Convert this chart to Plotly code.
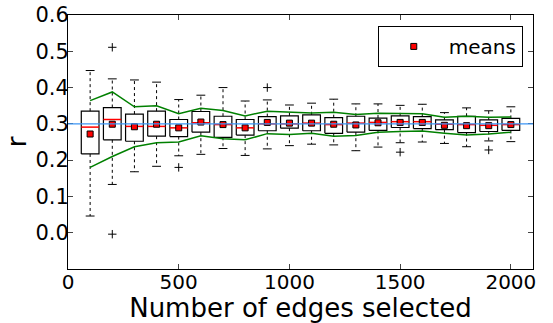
import plotly.graph_objects as go

# ---- data ----
edges = [100, 200, 300, 400, 500, 600, 700, 800, 900, 1000,
         1100, 1200, 1300, 1400, 1500, 1600, 1700, 1800, 1900, 2000]
whisk_lo = [0.046, 0.133, 0.168, 0.183, 0.212, 0.216, 0.232, 0.213, 0.231, 0.240,
            0.244, 0.242, 0.226, 0.236, 0.248, 0.250, 0.246, 0.237, 0.253, 0.251]
q1 = [0.217, 0.256, 0.252, 0.266, 0.265, 0.277, 0.263, 0.269, 0.281, 0.288,
      0.281, 0.274, 0.277, 0.282, 0.290, 0.287, 0.284, 0.276, 0.279, 0.282]
medians = [0.291, 0.312, 0.293, 0.293, 0.289, 0.303, 0.298, 0.289, 0.300, 0.300,
           0.302, 0.298, 0.302, 0.304, 0.306, 0.306, 0.299, 0.298, 0.296, 0.298]
q3 = [0.335, 0.345, 0.327, 0.335, 0.312, 0.334, 0.321, 0.312, 0.320, 0.322,
      0.325, 0.317, 0.321, 0.316, 0.322, 0.320, 0.311, 0.321, 0.311, 0.315]
whisk_hi = [0.447, 0.424, 0.421, 0.415, 0.367, 0.379, 0.400, 0.363, 0.366, 0.352,
            0.357, 0.368, 0.355, 0.355, 0.351, 0.354, 0.331, 0.344, 0.336, 0.347]
means = [0.272, 0.299, 0.292, 0.299, 0.289, 0.305, 0.298, 0.289, 0.304, 0.302,
         0.302, 0.299, 0.297, 0.303, 0.304, 0.304, 0.296, 0.295, 0.295, 0.298]
stds = [0.092, 0.089, 0.055, 0.051, 0.039, 0.038, 0.039, 0.033, 0.031, 0.031,
        0.028, 0.033, 0.029, 0.026, 0.025, 0.024, 0.022, 0.026, 0.023, 0.021]
outlier_x = [200, 200, 500, 900, 1500, 1900]
outlier_y = [0.511, -0.004, 0.180, 0.400, 0.222, 0.228]
ref_r = 0.3

x_ticks = [0, 500, 1000, 1500, 2000]
y_ticks = [0.0, 0.1, 0.2, 0.3, 0.4, 0.5, 0.6]
y_tick_labels = ["0.0", "0.1", "0.2", "0.3", "0.4", "0.5", "0.6"]

# ---- styles ----
BOX_W = 80
CAP_W = 40
FONT = "DejaVu Sans"

# build geometry from data
bx, by = [], []
mx, my = [], []
wx, wy = [], []
cx, cy = [], []
for x, lo, a, m, b, hi in zip(edges, whisk_lo, q1, medians, q3, whisk_hi):
    l, r = x - BOX_W / 2, x + BOX_W / 2
    bx += [l, r, r, l, l, None]
    by += [a, a, b, b, a, None]
    mx += [l, r, None]
    my += [m, m, None]
    wx += [x, x, None, x, x, None]
    wy += [b, hi, None, a, lo, None]
    cl, cr = x - CAP_W / 2, x + CAP_W / 2
    cx += [cl, cr, None, cl, cr, None]
    cy += [hi, hi, None, lo, lo, None]

upper = [m + s for m, s in zip(means, stds)]
lower = [m - s for m, s in zip(means, stds)]

fig = go.Figure()
fig.add_trace(go.Scatter(x=wx, y=wy, mode="lines", showlegend=False,
                         line=dict(color="black", width=1, dash="dot"), hoverinfo="skip"))
fig.add_trace(go.Scatter(x=cx, y=cy, mode="lines", showlegend=False,
                         line=dict(color="black", width=1), hoverinfo="skip"))
fig.add_trace(go.Scatter(x=bx, y=by, mode="lines", showlegend=False,
                         line=dict(color="black", width=1.2), hoverinfo="skip"))
fig.add_trace(go.Scatter(x=mx, y=my, mode="lines", showlegend=False,
                         line=dict(color="red", width=1.5), hoverinfo="skip"))
fig.add_trace(go.Scatter(x=outlier_x, y=outlier_y, mode="markers", showlegend=False,
                         marker=dict(symbol="cross-thin", size=6, color="black",
                                     line=dict(color="black", width=1))))
fig.add_trace(go.Scatter(x=edges, y=upper, mode="lines", showlegend=False,
                         line=dict(color="green", width=1.5)))
fig.add_trace(go.Scatter(x=edges, y=lower, mode="lines", showlegend=False,
                         line=dict(color="green", width=1.5)))
fig.add_trace(go.Scatter(x=edges, y=means, mode="markers", name="means",
                         marker=dict(symbol="square", size=6, color="red",
                                     line=dict(color="black", width=1))))

fig.add_shape(type="line", xref="x domain", yref="y", x0=0, x1=1, y0=ref_r, y1=ref_r,
              line=dict(color="#3b95f5", width=1.3), layer="above")

fig.update_layout(
    width=553, height=323,
    margin=dict(l=68, r=20, t=15, b=54, autoexpand=False),
    paper_bgcolor="white", plot_bgcolor="white",
    font=dict(family=FONT, color="black", size=20),
    legend=dict(x=0.978, y=0.957, xanchor="right", yanchor="top",
                bordercolor="black", borderwidth=1, bgcolor="white",
                font=dict(size=20, family=FONT), itemwidth=60),
)
fig.update_xaxes(range=[0, 2100], tickvals=x_ticks, ticks="inside", ticklen=5,
                 showgrid=False, zeroline=False, showline=True, linecolor="black",
                 linewidth=1, mirror="ticks", tickfont=dict(size=20, family=FONT),
                 automargin=False, ticklabelstandoff=-5,
                 title=dict(text="Number of edges selected", font=dict(size=26, family=FONT),
                            standoff=2))
fig.update_yaxes(range=[-0.1, 0.6], tickvals=y_ticks, ticktext=y_tick_labels,
                 ticks="inside", ticklen=5, showgrid=False, zeroline=False,
                 showline=True, linecolor="black", linewidth=1, mirror="ticks",
                 tickfont=dict(size=21, family=FONT), automargin=False,
                 ticklabelstandoff=-6,
                 title=dict(text="r", font=dict(size=27, family=FONT), standoff=0))

fig.write_html("out.html")
